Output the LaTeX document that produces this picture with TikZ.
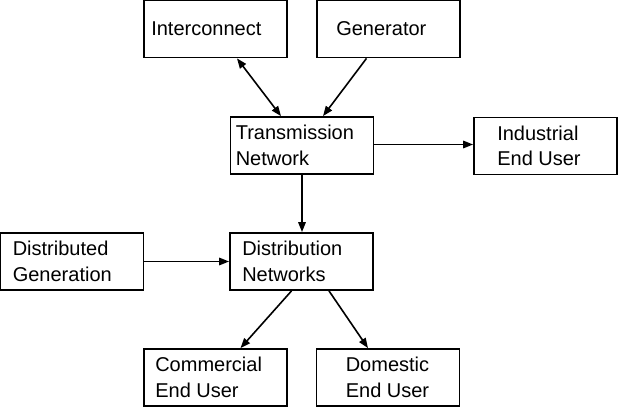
\documentclass[tikz,border=0pt]{standalone}
\usepackage{fontspec}
\setmainfont{Liberation Sans}
\usetikzlibrary{arrows.meta}
\tikzset{
  block/.style={draw, line width=1.8pt, minimum width=143pt, minimum height=57pt, inner sep=0pt},
  blocktext/.style={anchor=west, inner sep=0pt, align=left, font=\fontsize{20}{25.5}\selectfont},
  flow/.style={line width=1.6pt, -{Triangle[length=10pt,width=7.5pt]}},
  flowboth/.style={line width=1.6pt, {Triangle[length=10pt,width=7.5pt]}-{Triangle[length=10pt,width=7.5pt]}},
}
\begin{document}
\begin{tikzpicture}[x=1pt,y=-1pt]
\useasboundingbox (0,0) rectangle (618,407);
%Centres of the blocks
\coordinate (cInter) at (215.5,29);
\coordinate (cGen) at (388.5,29);
\coordinate (cTrans) at (302,145.5);
\coordinate (cInd) at (545.5,146);
\coordinate (cDistGen) at (72,261.5);
\coordinate (cDist) at (301.5,261.5);
\coordinate (cCom) at (215.5,377.5);
\coordinate (cDom) at (388,377.5);
%Top row
\node [block] (inter) at (cInter) {};
\node [blocktext] (interText) at ([xshift=8pt]inter.west) {Interconnect};
\node [block] (gen) at (cGen) {};
\node [blocktext] (genText) at ([xshift=20pt]gen.west) {Generator};
%Transmission level
\node [block] (trans) at (cTrans) {};
\node [blocktext] (transText) at ([xshift=6pt]trans.west) {Transmission\\Network};
\node [block] (ind) at (cInd) {};
\node [blocktext] (indText) at ([xshift=24pt]ind.west) {Industrial\\End User};
%Distribution level
\node [block] (distGen) at (cDistGen) {};
\node [blocktext] (distGenText) at ([xshift=13pt]distGen.west) {Distributed\\Generation};
\node [block] (dist) at (cDist) {};
\node [blocktext] (distText) at ([xshift=13pt]dist.west) {Distribution\\Networks};
%End users
\node [block] (com) at (cCom) {};
\node [blocktext] (comText) at ([xshift=12pt]com.west) {Commercial\\End User};
\node [block] (dom) at (cDom) {};
\node [blocktext] (domText) at ([xshift=30pt]dom.west) {Domestic\\End User};
%Connectors
\draw [flowboth] ([xshift=21.5pt]inter.south) -- ([xshift=-21pt]trans.north);
\draw [flow] ([xshift=-22pt]gen.south) -- ([xshift=21pt]trans.north);
\draw [flow] ([yshift=1pt]trans.east) -- ([yshift=1pt]trans.east -| ind.west);
\draw [flow] (trans.south) -- (trans.south |- dist.north);
\draw [flow] (distGen.east) -- (dist.west);
\draw [flow] ([xshift=-10pt]dist.south) -- ([xshift=25pt]com.north);
\draw [flow] ([xshift=27.5pt]dist.south) -- ([xshift=-20pt]dom.north);
\end{tikzpicture}
\end{document}
